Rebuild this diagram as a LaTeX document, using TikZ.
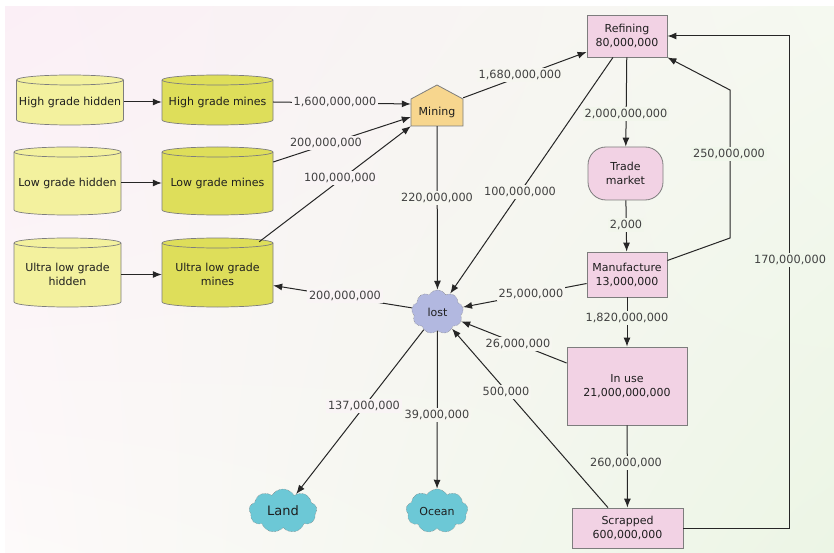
\documentclass[tikz,border=0pt]{standalone}
\usepackage{fontspec}
\setmainfont{DejaVu Sans}
\usetikzlibrary{shapes.symbols,arrows.meta,shadings}
\definecolor{bgTL}{RGB}{251,239,246}
\definecolor{bgTR}{RGB}{245,249,240}
\definecolor{bgBL}{RGB}{253,250,250}
\definecolor{bgBR}{RGB}{236,245,229}
\definecolor{lblL}{RGB}{249,244,245}
\definecolor{lblM}{RGB}{246,246,240}
\definecolor{lblR}{RGB}{242,246,236}
\definecolor{lblFR}{RGB}{240,247,235}
\definecolor{hidY}{RGB}{243,241,158}
\definecolor{minY}{RGB}{222,222,90}
\definecolor{minegold}{RGB}{247,214,142}
\definecolor{pinkbox}{RGB}{242,210,228}
\definecolor{lostblue}{RGB}{178,184,224}
\definecolor{seacyan}{RGB}{108,200,214}
\definecolor{boxline}{RGB}{125,125,125}
\definecolor{lblgray}{RGB}{65,65,65}
\definecolor{txt}{RGB}{30,30,30}
\newcommand\mycyl[7]{%
\begin{scope}[shift={(#2,#3)}]
\path[fill=#6] (-#4,-#5+5) -- (-#4,#5-5) arc[start angle=180,end angle=0,x radius=#4,y radius=5] -- (#4,-#5+5) arc[start angle=0,end angle=-180,x radius=#4,y radius=5] -- cycle;
\draw[cylline] (-#4,-#5+5) -- (-#4,#5-5) arc[start angle=180,end angle=0,x radius=#4,y radius=5] -- (#4,-#5+5) arc[start angle=0,end angle=-180,x radius=#4,y radius=5] -- cycle;
\draw[cylline] (#4,-#5+5) arc[start angle=0,end angle=180,x radius=#4,y radius=5];
\node[align=center, minimum width=2*#4, minimum height=2*#5, inner sep=0pt, text=txt] (#1) at (0,2) {#7};
\end{scope}}
\begin{document}
\begin{tikzpicture}[x=1pt,y=-1pt,
  font=\fontsize{11}{14}\selectfont,
  cylline/.style={draw=boxline, line width=0.7pt},
  box/.style={draw=boxline, line width=0.8pt, fill=pinkbox, align=center, inner sep=0pt, text=txt},
  lbl/.style={text=lblgray, inner sep=1.8pt, font=\fontsize{11.3}{13}\selectfont},
  flow/.style={draw=black!85, line width=1pt, -{Latex[length=9pt,width=7pt]}},
  puff/.style={cloud, cloud puffs=9, cloud puff arc=120, cloud ignores aspect, draw=gray, densely dotted, line width=0.5pt, inner sep=0pt, align=center, text=txt}]
\useasboundingbox (0,0) rectangle (834,553);
\fill[white] (0,0) rectangle (834,553);
\shade[upper left=bgTL, upper right=bgTR, lower left=bgBL, lower right=bgBR] (5,7) rectangle (834,553);

% cylinders
\mycyl{hgh}{70}{100}{53.5}{25}{hidY}{High grade hidden}
\mycyl{hgm}{217.5}{100}{55.5}{25}{minY}{High grade mines}
\mycyl{lgh}{67.5}{181}{53.5}{34}{hidY}{Low grade hidden}
\mycyl{lgm}{217.5}{181}{55.5}{34}{minY}{Low grade mines}
\mycyl{ulh}{67.5}{272.5}{53.5}{34.5}{hidY}{Ultra low grade\\hidden}
\mycyl{ulm}{217.5}{272.5}{55.5}{34.5}{minY}{Ultra low grade\\mines}

% mining house
\path[fill=minegold, draw=boxline, line width=0.8pt] (411,99) -- (437,85) -- (463,99) -- (463,126) -- (411,126) -- cycle;
\node[minimum width=52, minimum height=28, inner sep=0pt, text=txt] (mining) at (437,112) {Mining};

% boxes
\node[box, minimum width=80, minimum height=42] (refining) at (627,36) {Refining\\80,000,000};
\node[box, minimum width=75, minimum height=53, rounded corners=18] (trade) at (625.5,173.5) {Trade\\market};
\node[box, minimum width=80, minimum height=45] (manuf) at (627,274.5) {Manufacture\\13,000,000};
\node[box, minimum width=120, minimum height=78] (inuse) at (627,386) {In use\\21,000,000,000};
\node[box, minimum width=111, minimum height=40] (scrapped) at (627.5,528) {Scrapped\\600,000,000};

% clouds
\node[puff, fill=lostblue, minimum width=52, minimum height=44] (lost) at (437.5,312) {lost};
\node[puff, fill=seacyan, minimum width=68, minimum height=44, font=\fontsize{13}{15}\selectfont] (land) at (283,511) {Land};
\node[puff, fill=seacyan, minimum width=62, minimum height=44] (ocean) at (437,511) {Ocean};

% waypoints
\coordinate (w1) at (730,238);
\coordinate (w2) at (730,90);
\coordinate (w3) at (789,528);
\coordinate (w4) at (789,36);

% connectors
\draw[flow] (hgh.east) -- (hgm.west);
\draw[flow] (lgh.east) -- (lgm.west);
\draw[flow] (ulh.east) -- (ulm.west);
\draw[flow] (hgm.east) -- ([yshift=8]mining.west);
\draw[flow] ([yshift=21]lgm.east) -- ([yshift=-5]mining.west);
\draw[flow] ([xshift=-14,yshift=-2]ulm.north east) -- (mining.south west);
\draw[flow] (mining.north east) -- ([yshift=-16]refining.west);
\draw[flow] (mining) -- (lost);
\draw[flow] ([xshift=-14]refining.south) -- (lost);
\draw[flow] (refining) -- (trade);
\draw[flow] (trade) -- (manuf);
\draw[flow] ([yshift=14]manuf.east) -- (w1) -- (w2) -- (refining.south east);
\draw[flow] (scrapped.east) -- (w3) -- (w4) -- (refining.east);
\draw[flow] (lost) -- ([yshift=-11]ulm.east);
\draw[flow] ([yshift=-9]manuf.west) -- (lost);
\draw[flow] ([yshift=23]inuse.west) -- (lost);
\draw[flow] (manuf) -- (inuse);
\draw[flow] (inuse) -- (scrapped);
\draw[flow] ([xshift=-19.5]scrapped.north) -- (lost);
\draw[flow] (lost) -- (land);
\draw[flow] (lost) -- (ocean);

% labels
\node[lbl, fill=lblL] (l1) at (335,102) {1,600,000,000};
\node[lbl, fill=lblL] (l2) at (326,143) {200,000,000};
\node[lbl, fill=lblL] (l3) at (340,178) {100,000,000};
\node[lbl, fill=lblM] (l4) at (520,75) {1,680,000,000};
\node[lbl, fill=lblM] (l5) at (437,198) {220,000,000};
\node[lbl, fill=lblM] (l6) at (520,192) {100,000,000};
\node[lbl, fill=lblR] (l7) at (626,114) {2,000,000,000};
\node[lbl, fill=lblFR] (l8) at (729,154) {250,000,000};
\node[lbl, fill=lblR] (l9) at (626,225) {2,000};
\node[lbl, fill=lblFR] (l10) at (790,260) {170,000,000};
\node[lbl, fill=lblL] (l11) at (345,296) {200,000,000};
\node[lbl, fill=lblM] (l12) at (531,294) {25,000,000};
\node[lbl, fill=lblM] (l13) at (518,344) {26,000,000};
\node[lbl, fill=lblR] (l14) at (627,318) {1,820,000,000};
\node[lbl, fill=lblM] (l15) at (506,392) {500,000};
\node[lbl, fill=lblL] (l16) at (364,406) {137,000,000};
\node[lbl, fill=lblM] (l17) at (437,415) {39,000,000};
\node[lbl, fill=lblR] (l18) at (626,463) {260,000,000};
\end{tikzpicture}
\end{document}
